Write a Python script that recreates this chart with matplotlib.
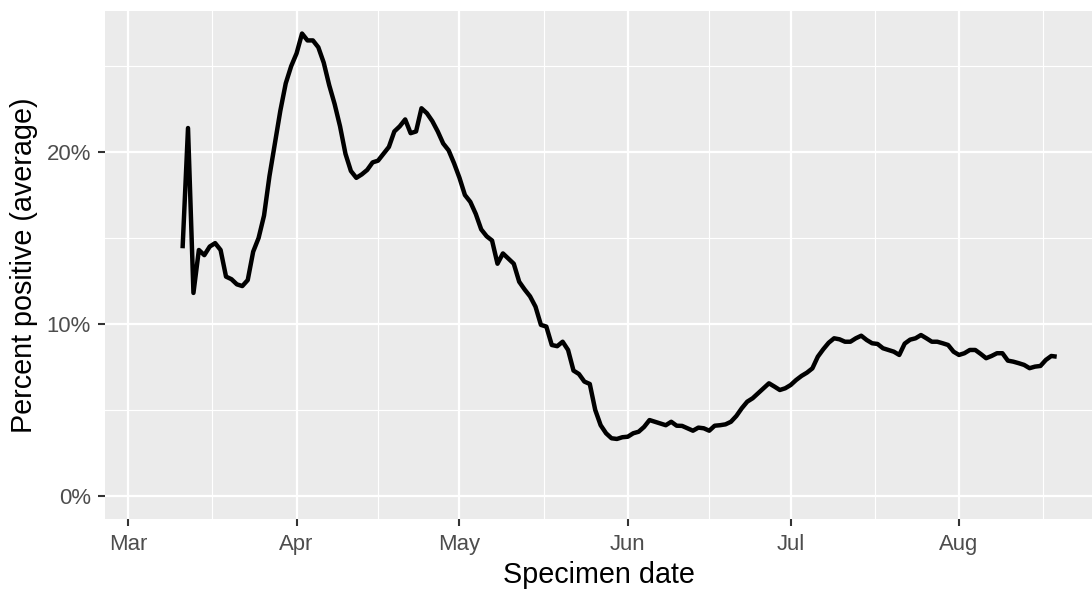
import matplotlib
matplotlib.use("Agg")
import matplotlib.pyplot as plt
import matplotlib.dates as mdates
import matplotlib.ticker as mticker
import pandas as pd
import numpy as np

# ---- data -------------------------------------------------------------
start_date = "2020-03-11"
pct_positive = [
    14.4, 21.4, 11.8, 14.3, 14.0, 14.5, 14.7, 14.3, 12.75, 12.6,
    12.3, 12.2, 12.55, 14.2, 15.0, 16.3, 18.6, 20.5, 22.4, 24.0,
    25.0, 25.75, 26.9, 26.5, 26.5, 26.1, 25.2, 23.9, 22.8, 21.5,
    19.9, 18.9, 18.5, 18.7, 18.96, 19.4, 19.5, 19.9, 20.3, 21.2,
    21.5, 21.9, 21.1, 21.2, 22.55, 22.26, 21.8, 21.2, 20.5, 20.1,
    19.35, 18.5, 17.5, 17.1, 16.4, 15.5, 15.1, 14.85, 13.5, 14.1,
    13.8, 13.5, 12.45, 12.0, 11.6, 11.0, 9.94, 9.84, 8.77, 8.7,
    8.96, 8.48, 7.28, 7.08, 6.64, 6.5, 4.99, 4.1, 3.63, 3.34,
    3.3, 3.4, 3.43, 3.63, 3.72, 4.0, 4.4, 4.3, 4.2, 4.1,
    4.3, 4.07, 4.06, 3.92, 3.78, 3.96, 3.92, 3.78, 4.07, 4.1,
    4.15, 4.3, 4.64, 5.09, 5.47, 5.67, 5.96, 6.25, 6.54, 6.35,
    6.15, 6.25, 6.44, 6.73, 6.97, 7.16, 7.41, 8.09, 8.52, 8.9,
    9.16, 9.1, 8.96, 8.96, 9.16, 9.31, 9.06, 8.87, 8.83, 8.58,
    8.48, 8.38, 8.19, 8.85, 9.08, 9.16, 9.35, 9.16, 8.96, 8.96,
    8.87, 8.77, 8.38, 8.19, 8.29, 8.48, 8.48, 8.25, 8.0, 8.13,
    8.29, 8.29, 7.86, 7.8, 7.71, 7.61, 7.42, 7.51, 7.55, 7.9,
    8.13, 8.09,
]
month_breaks = ["2020-03-01", "2020-04-01", "2020-05-01", "2020-06-01",
                "2020-07-01", "2020-08-01", "2020-09-01"]
month_labels = ["Mar", "Apr", "May", "Jun", "Jul", "Aug"]
y_breaks = [0, 10, 20]
x_label = "Specimen date"
y_label = "Percent positive (average)"

dates = pd.date_range(start_date, periods=len(pct_positive), freq="D")
values = np.array(pct_positive)

# ---- style ------------------------------------------------------------
plt.rcParams["font.family"] = ["Liberation Sans", "DejaVu Sans"]

W, H = 1092, 589
fig = plt.figure(figsize=(W / 100, H / 100), dpi=100)
ax = fig.add_axes([105 / W, 1 - 519 / H, (1092 - 105) / W, (519 - 10.7) / H])
ax.set_facecolor("#EBEBEB")

mb = [mdates.date2num(pd.Timestamp(d)) for d in month_breaks]
major_x = mb[:-1]
minor_x = [(a + b) / 2 for a, b in zip(mb[:-1], mb[1:])]

ax.set_xticks(major_x)
ax.set_xticklabels(month_labels)
ax.set_xticks(minor_x, minor=True)
ax.set_yticks(y_breaks)
ax.set_yticks([5, 15, 25], minor=True)
ax.yaxis.set_major_formatter(mticker.FuncFormatter(lambda v, p: f"{v:.0f}%"))

ax.grid(which="major", color="white", linewidth=1.6)
ax.grid(which="minor", color="white", linewidth=0.8)
ax.set_axisbelow(True)

ax.plot(mdates.date2num(dates), values, color="black", linewidth=3.2,
        solid_joinstyle="round", solid_capstyle="butt")

x0 = mdates.date2num(pd.Timestamp("2020-03-01"))
ax.set_xlim(x0 - 4.29, x0 + 177.5)
ax.set_ylim(-1.36, 28.23)

for s in ax.spines.values():
    s.set_visible(False)

ax.tick_params(which="major", length=4.8, width=1.5, color="#333333",
               labelcolor="#4D4D4D", labelsize=15.9)
ax.tick_params(which="minor", length=0)
ax.tick_params(axis="x", pad=6.2)
ax.tick_params(axis="y", pad=5.2)

ax.set_xlabel(x_label, fontsize=20.7, color="black", labelpad=4)
ax.set_ylabel(y_label, fontsize=20.7, color="black", labelpad=6.5)

fig.savefig("out.png", dpi=100, facecolor="white")
